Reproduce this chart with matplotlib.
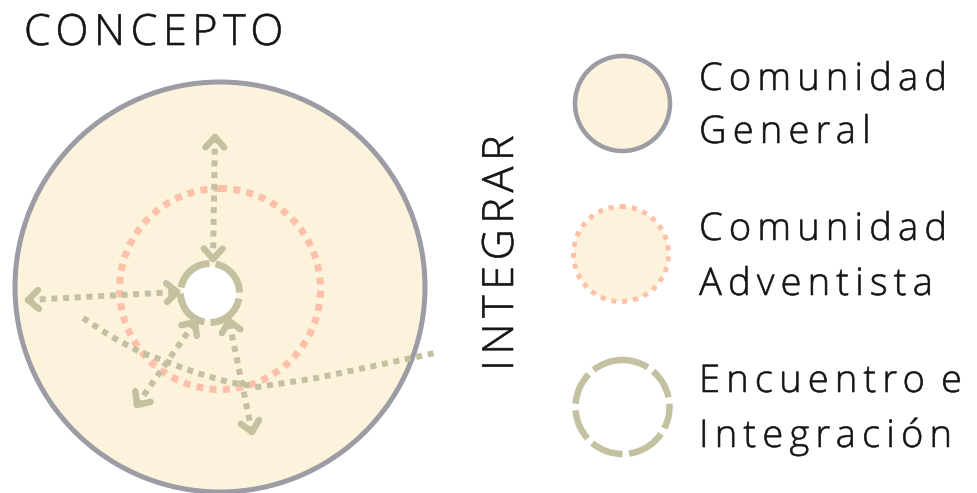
import matplotlib
matplotlib.use('Agg')
import matplotlib.pyplot as plt
from matplotlib.patches import Circle, Arc
from matplotlib.patheffects import AbstractPathEffect
from matplotlib.path import Path
import numpy as np

plt.rcParams['font.family'] = ['Open Sans', 'DejaVu Sans']

# ---------------- data (pixel space) ----------------
title = "CONCEPTO"
side_label = "INTEGRAR"
legend_lines = [("Comunidad", "General"),
                ("Comunidad", "Adventista"),
                ("Encuentro e", "Integración")]

# double-headed dotted arrows: (x0, y0) -> (x1, y1)
arrow_x0 = [215, 28, 137, 252]
arrow_y0 = [137, 300, 405, 432]
arrow_x1 = [213, 177, 195, 229]
arrow_y1 = [259, 292, 322, 321]

# dotted path without arrow heads
path_x = [83, 112, 140, 167, 197, 228, 258, 317, 435]
path_y = [318, 337, 352, 362, 373, 382, 387, 378, 353]

# gaps in the legend "encuentro" ring (visual angles, degrees)
legend_ring_gaps = [132, 53.5, 8, -31, -86, -134, 180]
# gaps in the central ring (visual angles, degrees)
center_ring_gaps = [-5, 85, 175, 265]

# ---------------- style ----------------
W, H = 977, 493
PX = 72 / 100.0
cream = '#fdf3dc'
gray = '#9b9ca4'
pink = '#fdc1a9'
olive = '#c4c1a1'
txt = '#141414'


class Tracking(AbstractPathEffect):
    """Letter spacing: shifts each glyph of a text path by a fixed amount,
    and slightly emboldens the glyphs with a thin outline."""

    def __init__(self, spacing_em, embolden_px=0.6):
        super().__init__()
        self.sp = spacing_em * 100.0  # text paths use a 100-unit em
        self.emb = embolden_px

    def draw_path(self, renderer, gc, tpath, affine, rgbFace=None):
        verts = tpath.vertices.copy()
        codes = tpath.codes
        if codes is None:
            renderer.draw_path(gc, tpath, affine, rgbFace)
            return
        starts = list(np.where(codes == Path.MOVETO)[0]) + [len(codes)]
        contours = []
        for a, b in zip(starts[:-1], starts[1:]):
            sel = codes[a:b] != Path.CLOSEPOLY
            xs = verts[a:b][sel, 0]
            if len(xs) == 0:
                continue
            contours.append((xs.min(), xs.max(), a, b))
        contours.sort(key=lambda c: c[0])
        k = -1
        gmax = -1e9
        for xmin, xmax, a, b in contours:
            if xmin > gmax - 0.5:
                k += 1
                gmax = xmax
            else:
                gmax = max(gmax, xmax)
            verts[a:b, 0] += k * self.sp
        path = Path(verts, codes)
        gc0 = renderer.new_gc()
        gc0.copy_properties(gc)
        if self.emb > 0 and rgbFace is not None:
            gc0.set_linewidth(renderer.points_to_pixels(1) and self.emb * 0.72)
            gc0.set_foreground(rgbFace)
            gc0.set_joinstyle('round')
        renderer.draw_path(gc0, path, affine, rgbFace)
        gc0.restore()


fig = plt.figure(figsize=(W / 100, H / 100), dpi=100)
ax = fig.add_axes([0, 0, 1, 1])
ax.set_xlim(0, W)
ax.set_ylim(H, 0)
ax.axis('off')


def gapped_ring(cx, cy, r, gaps_visual, gap_deg, lw, color, z):
    # y axis inverted: data angle = -visual angle
    g = sorted([(-a) % 360 for a in gaps_visual])
    for i in range(len(g)):
        a1 = g[i] + gap_deg / 2
        a2 = g[(i + 1) % len(g)] - gap_deg / 2
        if a2 <= a1:
            a2 += 360
        ax.add_patch(Arc((cx, cy), 2 * r, 2 * r, theta1=a1, theta2=a2,
                         lw=lw, color=color, zorder=z, capstyle='butt'))


def chevron(px, py, dx, dy, L=14, ang=42, lw=6.5 * PX):
    n = np.hypot(dx, dy)
    ux, uy = dx / n, dy / n
    for s in (1, -1):
        t = np.radians(s * ang)
        rx = ux * np.cos(t) - uy * np.sin(t)
        ry = ux * np.sin(t) + uy * np.cos(t)
        ax.plot([px - L * rx, px], [py - L * ry, py], color=olive, lw=lw,
                solid_capstyle='round', zorder=6)


# big circle (Comunidad General)
ax.add_patch(Circle((220, 287), 205, facecolor=cream, edgecolor=gray,
                    lw=5 * PX, zorder=1))
# pink dotted circle (Comunidad Adventista)
ax.add_patch(Circle((220, 289), 100.5, facecolor='none', edgecolor=pink,
                    lw=7 * PX, linestyle=(0, (1, 0.9)), zorder=2))

# dotted path
ax.plot(path_x, path_y, color=olive, lw=6 * PX, linestyle=(0, (1, 0.95)),
        dash_capstyle='butt', zorder=4)

# arrows
for x0, y0, x1, y1 in zip(arrow_x0, arrow_y0, arrow_x1, arrow_y1):
    ax.plot([x0, x1], [y0, y1], color=olive, lw=6 * PX,
            linestyle=(0, (1, 0.95)), dash_capstyle='butt', zorder=5)
    chevron(x1, y1, x1 - x0, y1 - y0)
    chevron(x0, y0, x0 - x1, y0 - y1)

# central ring
ax.add_patch(Circle((210, 293), 27, facecolor='white', edgecolor='none', zorder=7))
gapped_ring(210, 293, 29.5, center_ring_gaps, 12, 7 * PX, olive, 8)

# titles
ax.text(24, 45, title, fontsize=31, color=txt, ha='left', va='baseline',
        fontweight='light', path_effects=[Tracking(0.13)])
ax.text(513, 371, side_label, fontsize=31, color=txt, rotation=90,
        rotation_mode='anchor', ha='left', va='baseline',
        fontweight='light', path_effects=[Tracking(0.13)])

# legend symbols
ax.add_patch(Circle((622.5, 103.5), 47.5, facecolor=cream, edgecolor=gray,
                    lw=4.5 * PX, zorder=3))
ax.add_patch(Circle((621, 254), 47.5, facecolor=cream, edgecolor=pink,
                    lw=5 * PX, linestyle=(0, (1, 1.2)), zorder=3))
gapped_ring(622.5, 407, 47, legend_ring_gaps, 8, 6.5 * PX, olive, 3)

# legend texts
baselines = [(90, 143), (240, 295), (392, 447)]
for (l1, l2), (b1, b2) in zip(legend_lines, baselines):
    for s, b in ((l1, b1), (l2, b2)):
        ax.text(699, b, s, fontsize=27.5, color=txt, ha='left', va='baseline',
                fontweight='light', path_effects=[Tracking(0.16)])

fig.savefig('out.png', dpi=100)
